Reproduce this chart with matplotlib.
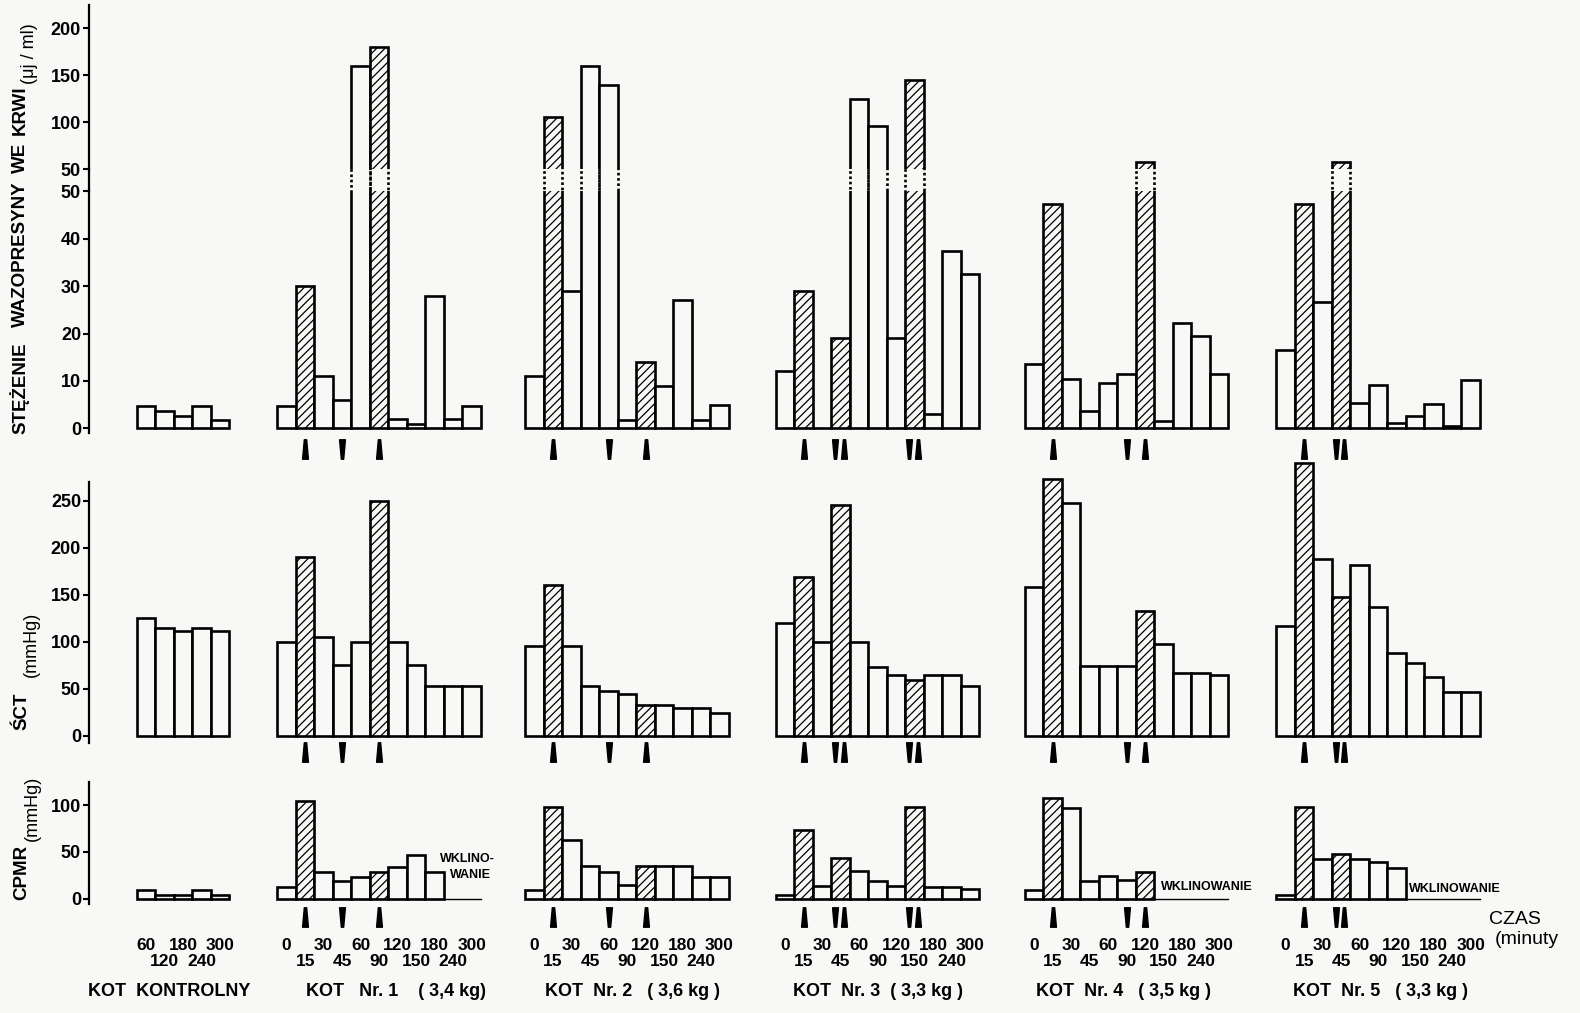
import matplotlib
matplotlib.use("Agg")
import matplotlib.pyplot as plt
from matplotlib.path import Path
from matplotlib import transforms

# ---------------- data ----------------
times_ctrl = ["60", "120", "180", "240", "300"]
times_cat = ["0", "15", "30", "45", "60", "90", "120", "150", "180", "240", "300"]
group_names = ["KOT  KONTROLNY", "KOT   Nr. 1    ( 3,4 kg)", "KOT  Nr. 2   ( 3,6 kg )",
               "KOT  Nr. 3  ( 3,3 kg )", "KOT  Nr. 4   ( 3,5 kg )", "KOT  Nr. 5   ( 3,3 kg )"]

# vasopressin concentration (uj/ml)
vaso_ctrl = [4.6, 3.7, 2.5, 4.6, 1.7]
vaso_1 = [4.7, 30, 11, 6, 160, 180, 2, 1, 28, 2, 4.7]
vaso_2 = [11, 106, 29, 160, 140, 1.8, 14, 9, 27, 1.8, 4.9]
vaso_3 = [12, 29, 0, 19, 125, 96, 19, 145, 3, 37.5, 32.5]
vaso_4 = [13.5, 47.4, 10.4, 3.7, 9.5, 11.4, 58, 1.5, 22.3, 19.5, 11.5]
vaso_5 = [16.5, 47.4, 26.6, 58, 5.3, 9.2, 1.1, 2.5, 5.2, 0.5, 10.2]

# SCT (mmHg)
sct_ctrl = [125, 115, 111, 115, 111]
sct_1 = [100, 190, 105, 75, 100, 250, 100, 75, 53, 53, 53]
sct_2 = [95, 160, 95, 53, 48, 44, 33, 33, 29, 29, 24]
sct_3 = [120, 169, 100, 245, 100, 73, 64, 59, 64, 64, 53]
sct_4 = [158, 273, 248, 74, 74, 74, 133, 97, 67, 67, 64]
sct_5 = [117, 290, 188, 148, 182, 137, 88, 77, 62, 46, 46]

# CPMR (mmHg); None = no measurement (wklinowanie)
cpmr_ctrl = [9, 4, 4, 9, 4]
cpmr_1 = [13, 104, 29, 19, 23, 29, 34, 47, 29, None, None]
cpmr_2 = [9, 98, 63, 35, 29, 15, 35, 35, 35, 23, 23]
cpmr_3 = [4, 73, 14, 44, 30, 19, 14, 98, 13, 13, 11]
cpmr_4 = [9, 108, 97, 19, 24, 20, 29, None, None, None, None]
cpmr_5 = [4, 98, 43, 48, 43, 39, 33, None, None, None, None]

# hatched bars / injection arrows (index of time point)
arrows_up = [[], [1, 5], [1, 6], [1, 3, 7], [1, 6], [1, 3]]
arrows_down = [[], [3], [4], [3, 7], [5], [3]]

vaso = [vaso_ctrl, vaso_1, vaso_2, vaso_3, vaso_4, vaso_5]
sct = [sct_ctrl, sct_1, sct_2, sct_3, sct_4, sct_5]
cpmr = [cpmr_ctrl, cpmr_1, cpmr_2, cpmr_3, cpmr_4, cpmr_5]
times = [times_ctrl] + [times_cat] * 5

# ---------------- layout ----------------
FW, FH, DPI = 1580, 1013, 100
BG = "#f8f8f6"
plt.rcParams['font.family'] = ['Liberation Sans', 'DejaVu Sans']
plt.rcParams['hatch.linewidth'] = 0.9

fig = plt.figure(figsize=(FW / DPI, FH / DPI), dpi=DPI, facecolor=BG)

AX_L, AX_R, BW = 88.7, 1500.0, 18.5
XMAX = (AX_R - AX_L) / BW
group_start = [2.6, 10.2, 23.6, 37.15, 50.6, 64.2]
label_shift = [-0.75, 0.9, 0.3, 0.0, -0.15, 0.15]
LW = 1.9
TICK_FS = 13


def add_ax(top, bottom, ylim, ticks):
    ax = fig.add_axes([AX_L / FW, 1 - bottom / FH, (AX_R - AX_L) / FW, (bottom - top) / FH])
    ax.set_xlim(0, XMAX)
    ax.set_ylim(*ylim)
    ax.patch.set_alpha(0)
    for s in ['top', 'right', 'bottom']:
        ax.spines[s].set_visible(False)
    ax.spines['left'].set_linewidth(1.6)
    ax.set_xticks([])
    ax.set_yticks(ticks)
    ax.tick_params(axis='y', length=4, width=1.5, pad=1.5, labelsize=TICK_FS)
    for lab in ax.get_yticklabels():
        lab.set_fontweight('bold')
    return ax


ax_up = add_ax(5, 169.3, (50, 224.7), [50, 100, 150, 200])
ax_gap = add_ax(169.3, 191.5, (0, 1), [])
ax_lo = add_ax(191.5, 433, (-1.0, 50), [0, 10, 20, 30, 40, 50])
ax_sct = add_ax(481.7, 742.6, (-7.45, 270.3), [0, 50, 100, 150, 200, 250])
ax_cp = add_ax(781.7, 903.5, (-5.0, 125), [0, 50, 100])


def draw_bars(ax, data, keep=lambda v: True, clip=True):
    for g, vals in enumerate(data):
        for i, v in enumerate(vals):
            if v is None or not keep(v):
                continue
            h = '////' if i in arrows_up[g] else None
            ax.bar(group_start[g] + i + 0.5, v, width=1.0, facecolor=BG, edgecolor='black',
                   linewidth=LW, hatch=h, zorder=2, clip_on=clip)


draw_bars(ax_up, vaso, keep=lambda v: v > 50)
draw_bars(ax_lo, vaso)
draw_bars(ax_sct, sct, clip=False)
draw_bars(ax_cp, cpmr, clip=False)

# dotted break of the tall bars
for g, vals in enumerate(vaso):
    for i, v in enumerate(vals):
        if v > 50:
            ax_gap.bar(group_start[g] + i + 0.5, 3, bottom=-1, width=1.0, fill=False,
                       edgecolor='black', linewidth=LW, linestyle=(0, (1.0, 1.0)))

# thin baseline where CPMR could not be measured
for g, vals in enumerate(cpmr):
    missing = [i for i, v in enumerate(vals) if v is None]
    if missing:
        ax_cp.plot([group_start[g] + missing[0], group_start[g] + len(vals)], [0, 0],
                   color='black', lw=1.0, zorder=1)

# arrows
up_path = Path([(-3, -10), (3, -10), (1.2, 10), (-1.2, 10), (-3, -10)],
               [Path.MOVETO, Path.LINETO, Path.LINETO, Path.LINETO, Path.CLOSEPOLY])
down_path = Path([(-3, 10), (3, 10), (1.2, -10), (-1.2, -10), (-3, 10)],
                 [Path.MOVETO, Path.LINETO, Path.LINETO, Path.LINETO, Path.CLOSEPOLY])

for ax, off in [(ax_lo, 21), (ax_sct, 16.5), (ax_cp, 18)]:
    tr = transforms.offset_copy(ax.transData, fig=fig, y=-off, units='dots')
    for g in range(len(group_start)):
        for i in arrows_up[g]:
            dx = 0.15 if i in arrows_down[g] else 0.0
            ax.plot(group_start[g] + i + 0.5 + dx, 0, marker=up_path, ms=14, color='black',
                    ls='none', transform=tr, clip_on=False)
        for i in arrows_down[g]:
            dx = -0.3 if i in arrows_up[g] else 0.0
            ax.plot(group_start[g] + i + 0.5 + dx, 0, marker=down_path, ms=14, color='black',
                    ls='none', transform=tr, clip_on=False)

# time labels and group names
btr = transforms.blended_transform_factory(ax_cp.transData, fig.transFigure)
for g, labs in enumerate(times):
    for i, t in enumerate(labs):
        y = 946 if i % 2 == 0 else 962
        ax_cp.text(group_start[g] + i + 0.5, 1 - y / FH, t, transform=btr, ha='center',
                   va='center', fontsize=12.5, fontweight='bold')
    ax_cp.text(group_start[g] + len(labs) / 2 + label_shift[g], 1 - 991.5 / FH, group_names[g],
               transform=btr, ha='center', va='center', fontsize=13, fontweight='bold')

# wklinowanie labels
ax_cp.text(group_start[1] + 10.25, 43, "WKLINO-", ha='center', va='center', fontsize=9,
           fontweight='bold')
ax_cp.text(group_start[1] + 10.45, 25, "WANIE", ha='center', va='center', fontsize=9,
           fontweight='bold')
ax_cp.text(group_start[4] + 7.35, 12.5, "WKLINOWANIE", ha='left', va='center', fontsize=9,
           fontweight='bold')
ax_cp.text(group_start[5] + 7.15, 10.5, "WKLINOWANIE", ha='left', va='center', fontsize=9,
           fontweight='bold')

# axis titles
def ftext(xp, yp, s, **kw):
    fig.text(xp / FW, 1 - yp / FH, s, rotation=90, ha='center', va='center', **kw)

ftext(20, 388, "STĘŻENIE", fontsize=13.5, fontweight='bold')
ftext(20, 254, "WAZOPRESYNY", fontsize=13.5, fontweight='bold')
ftext(20, 158, "WE", fontsize=13.5, fontweight='bold')
ftext(20, 110, "KRWI", fontsize=13.5, fontweight='bold')
ftext(30, 54, "(μj / ml)", fontsize=13)
ftext(22, 711, "ŚCT", fontsize=13.5, fontweight='bold')
ftext(31, 644, "(mmHg)", fontsize=13)
ftext(22, 872, "CPMR", fontsize=13.5, fontweight='bold')
ftext(32, 808, "(mmHg)", fontsize=13)

fig.text(1489 / FW, 1 - 919 / FH, "CZAS", ha='left', va='center', fontsize=14)
fig.text(1495 / FW, 1 - 939 / FH, "(minuty", ha='left', va='center', fontsize=14)

fig.savefig("out.png", dpi=DPI, facecolor=BG)
